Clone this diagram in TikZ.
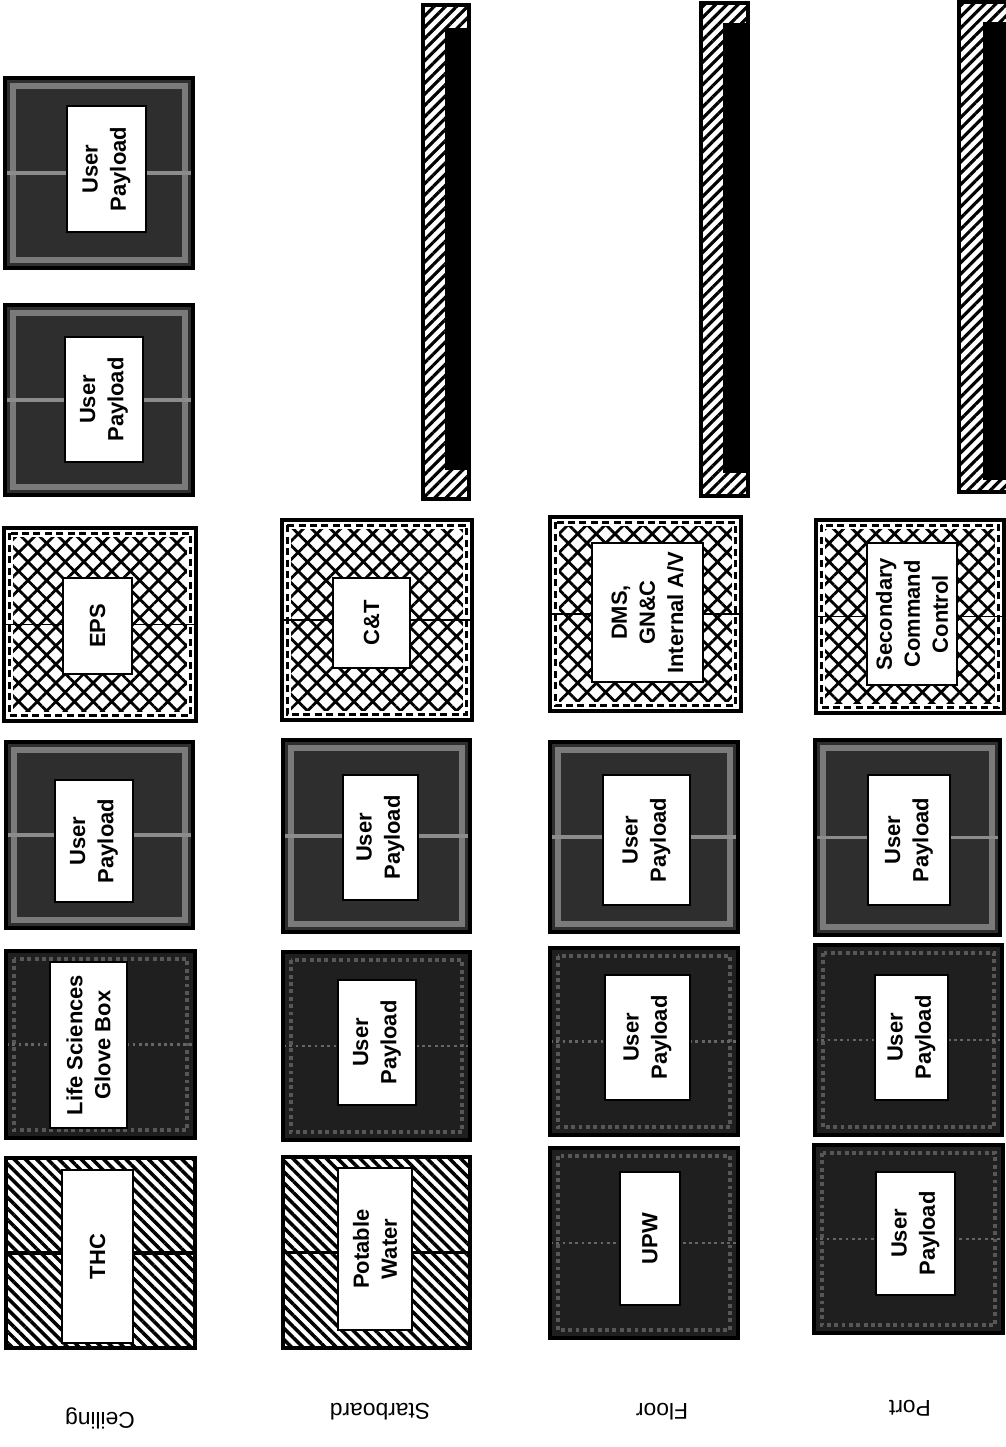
\documentclass[tikz,border=0pt]{standalone}
\usepackage{fontspec}
\setmainfont{Liberation Sans}
\usetikzlibrary{patterns.meta}

\begin{document}
\begin{tikzpicture}[
  x=0.02cm, y=-0.02cm,
  payload/.style={draw, line width=2.6pt, fill=black!82, path picture={
      \draw[black!52, line width=3pt] ([shift={(4.5pt,-4.5pt)}]path picture bounding box.north west)
        rectangle ([shift={(-4.5pt,4.5pt)}]path picture bounding box.south east);
      \draw[black!45, line width=2.2pt] (path picture bounding box.west) -- (path picture bounding box.east);}},
  payloaddark/.style={draw, line width=2.6pt, fill=black!88, path picture={
      \draw[black!66, line width=2.2pt, dotted] ([shift={(4.5pt,-4.5pt)}]path picture bounding box.north west)
        rectangle ([shift={(-4.5pt,4.5pt)}]path picture bounding box.south east);
      \draw[black!60, line width=1.6pt, dotted] (path picture bounding box.west) -- (path picture bounding box.east);}},
  xhatch/.style={draw, line width=2.6pt, pattern={Hatch[angle=45, distance=7.5pt, line width=1.6pt]}, path picture={
      \draw[white, line width=4pt] ([shift={(3pt,-3pt)}]path picture bounding box.north west)
        rectangle ([shift={(-3pt,3pt)}]path picture bounding box.south east);
      \draw[line width=1.6pt, dash pattern=on 4pt off 2.5pt] ([shift={(3pt,-3pt)}]path picture bounding box.north west)
        rectangle ([shift={(-3pt,3pt)}]path picture bounding box.south east);
      \draw[line width=1pt] (path picture bounding box.west) -- (path picture bounding box.east);}},
  hatchbox/.style={draw, line width=2.6pt, pattern={Lines[angle=-45, distance=4.5pt, line width=2pt]}, path picture={
      \draw[line width=2pt] (path picture bounding box.west) -- (path picture bounding box.east);}},
  bar/.style={draw, line width=1.8pt, pattern={Lines[angle=45, distance=4.5pt, line width=1.8pt]}},
  lbl/.style={draw, fill=white, line width=1.2pt, rotate=90, inner sep=0pt, align=center,
              font=\fontsize{12.5}{16}\selectfont\bfseries},
  side/.style={rotate=180, font=\fontsize{13}{15}\selectfont}
]
\useasboundingbox (0,0) rectangle (1005,1447);

\draw[payload] (5,78) rectangle (193,268);
\node[lbl, minimum width=2.52cm, minimum height=1.58cm] (ceil1) at (106.5,169) {User\\Payload};
\draw[payload] (5,305) rectangle (193,495);
\node[lbl, minimum width=2.50cm, minimum height=1.56cm] (ceil2) at (104,399.5) {User\\Payload};
\draw[xhatch] (4,528) rectangle (196,721);
\node[lbl, minimum width=1.92cm, minimum height=1.38cm] (eps) at (97.5,626) {EPS};
\draw[payload] (6,742) rectangle (193,928);
\node[lbl, minimum width=2.44cm, minimum height=1.56cm] (ceil3) at (94,841) {User\\Payload};
\draw[payloaddark] (6,951) rectangle (195,1138);
\node[lbl, minimum width=3.32cm, minimum height=1.54cm] (glove) at (88.5,1045) {Life Sciences\\Glove Box};
\draw[hatchbox] (6,1158) rectangle (195,1348);
\node[lbl, minimum width=3.46cm, minimum height=1.42cm] (thc) at (97.5,1256.5) {THC};

\draw[bar] (423,5) rectangle (469,499);
\fill (445,28) rectangle (469,470);
\draw[xhatch] (282,520) rectangle (472,720);
\node[lbl, minimum width=1.80cm, minimum height=1.54cm] (ct) at (371.5,623) {C\&T};
\draw[payload] (283,740) rectangle (470,932);
\node[lbl, minimum width=2.50cm, minimum height=1.50cm] (star1) at (380.5,837.5) {User\\Payload};
\draw[payloaddark] (283,952) rectangle (470,1140);
\node[lbl, minimum width=2.50cm, minimum height=1.56cm] (star2) at (377,1042.5) {User\\Payload};
\draw[hatchbox] (283,1157) rectangle (470,1348);
\node[lbl, minimum width=3.24cm, minimum height=1.48cm] (water) at (375,1249) {Potable\\Water};

\draw[bar] (701,3) rectangle (748,496);
\fill (723,23) rectangle (748,473);
\draw[xhatch] (550,517) rectangle (741,711);
\node[lbl, minimum width=2.78cm, minimum height=2.22cm] (dms) at (647.5,612.5) {DMS,\\GN\&C\\Internal A/V};
\draw[payload] (550,742) rectangle (738,932);
\node[lbl, minimum width=2.60cm, minimum height=1.74cm] (floor1) at (646.5,840) {User\\Payload};
\draw[payloaddark] (550,948) rectangle (738,1135);
\node[lbl, minimum width=2.50cm, minimum height=1.70cm] (floor2) at (647.5,1037.5) {User\\Payload};
\draw[payloaddark] (550,1148) rectangle (738,1338);
\node[lbl, minimum width=2.66cm, minimum height=1.20cm] (upw) at (650,1238.5) {UPW};

\draw[bar] (959,2) rectangle (1010,492);
\fill (983,22) rectangle (1010,480);
\draw[xhatch] (816,520) rectangle (1004,713);
\node[lbl, minimum width=2.84cm, minimum height=1.80cm] (scc) at (912,614) {Secondary\\Command\\Control};
\draw[payload] (815,740) rectangle (1000,935);
\node[lbl, minimum width=2.60cm, minimum height=1.64cm] (port1) at (909,840) {User\\Payload};
\draw[payloaddark] (815,945) rectangle (1002,1135);
\node[lbl, minimum width=2.50cm, minimum height=1.46cm] (port2) at (911.5,1037.5) {User\\Payload};
\draw[payloaddark] (814,1145) rectangle (1003,1333);
\node[lbl, minimum width=2.46cm, minimum height=1.58cm] (port3) at (915.5,1233.5) {User\\Payload};

\node[side] (ceiling) at (100,1418) {Ceiling};
\node[side] (starboard) at (380,1412) {Starboard};
\node[side] (floor) at (662,1412) {Floor};
\node[side] (port) at (910,1408) {Port};
\end{tikzpicture}
\end{document}
